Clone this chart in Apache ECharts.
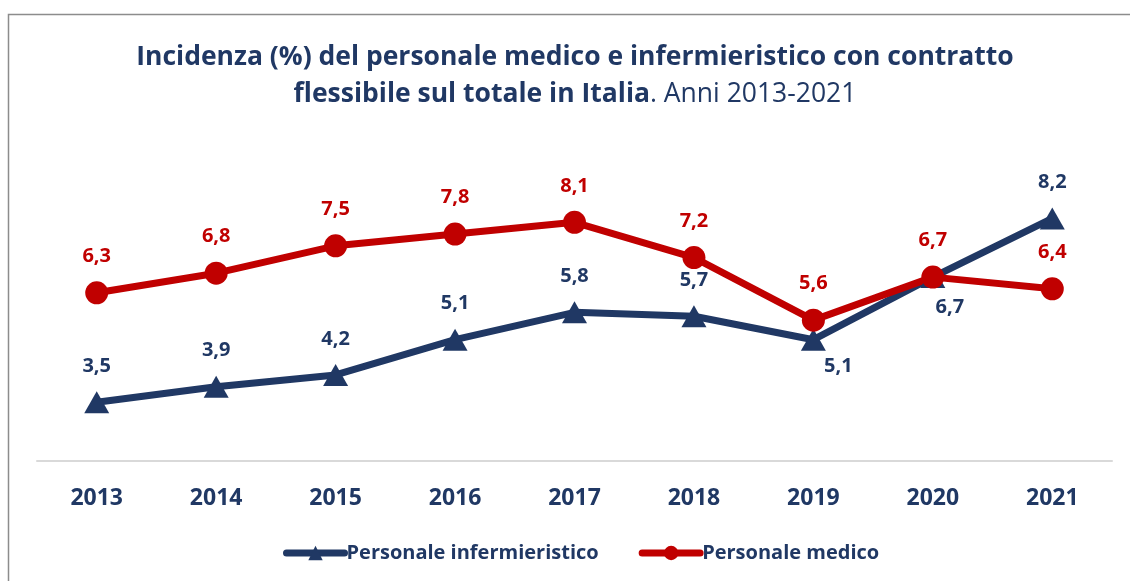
<!DOCTYPE html>
<html>
<head>
<meta charset="utf-8">
<script src="https://cdn.jsdelivr.net/npm/echarts@6/dist/echarts.min.js"></script>
<style>
  html, body { margin: 0; padding: 0; background: #fff; }
  #grafico { width: 1130px; height: 581px; }
</style>
</head>
<body>
<div id="grafico"></div>
<script>
// dati
var anni = ['2013', '2014', '2015', '2016', '2017', '2018', '2019', '2020', '2021'];
var infermieristico = [3.5, 3.9, 4.2, 5.1, 5.8, 5.7, 5.1, 6.7, 8.2];
var medico = [6.3, 6.8, 7.5, 7.8, 8.1, 7.2, 5.6, 6.7, 6.4];

var blu = '#203864';
var rosso = '#c00000';
var font = '"Open Sans", "Noto Sans", sans-serif';

function virgola(p) {
    return String(p.value).replace('.', ',');
}

// etichette sotto il punto per 2019 e 2020 (infermieristico)
var datiInf = infermieristico.map(function (v, i) {
    if (i == 6) return { value: v, label: { position: 'bottom', distance: 6, offset: [25, 0] } };
    if (i == 7) return { value: v, label: { position: 'bottom', distance: 9, offset: [17, 0] } };
    return v;
});

var chart = echarts.init(document.getElementById('grafico'));
var option = {
    animation: false,
    title: {
        left: 570,
        top: 34,
        textAlign: 'center',
        text: '{b|Incidenza (%) del personale medico e infermieristico con contratto}\n{b|flessibile sul totale in Italia}{n|. Anni 2013-2021}',
        textStyle: {
            rich: {
                b: { fontFamily: font, fontWeight: 'bold', fontSize: 26.5, color: blu, lineHeight: 37 },
                n: { fontFamily: font, fontWeight: 'normal', fontSize: 26.5, color: blu, lineHeight: 37 }
            }
        }
    },
    graphic: [{
        type: 'rect',
        shape: { x: 8.5, y: 14.5, width: 1300, height: 700 },
        style: { fill: 'none', stroke: '#8c8c8c', lineWidth: 1.5 },
        silent: true
    }],
    legend: {
        top: 538,
        left: 278,
        itemWidth: 58,
        itemHeight: 18,
        itemGap: 40,
        lineStyle: { width: 7, cap: 'round' },
        textStyle: { fontFamily: font, fontWeight: 'bold', fontSize: 20, color: blu, padding: [0, 0, 0, -3] },
        data: ['Personale infermieristico', 'Personale medico']
    },
    grid: { left: 37, right: 18, top: 148, bottom: 120 },
    xAxis: {
        type: 'category',
        data: anni,
        boundaryGap: true,
        axisLine: { lineStyle: { color: '#d9d9d9', width: 2 } },
        axisTick: { show: false },
        axisLabel: { margin: 26, fontFamily: font, fontWeight: 'bold', fontSize: 23, color: blu }
    },
    yAxis: {
        type: 'value',
        min: 2,
        max: 10,
        show: false,
        splitLine: { show: false }
    },
    series: [
        {
            name: 'Personale infermieristico',
            type: 'line',
            data: datiInf,
            symbol: 'triangle',
            symbolSize: [25, 22],
            itemStyle: { color: blu },
            lineStyle: { color: blu, width: 7, cap: 'round' },
            label: {
                show: true,
                position: 'top',
                distance: 15,
                formatter: virgola,
                fontFamily: font, fontWeight: 'bold', fontSize: 20, color: blu
            }
        },
        {
            name: 'Personale medico',
            type: 'line',
            data: medico,
            symbol: 'circle',
            symbolSize: 23,
            itemStyle: { color: rosso },
            lineStyle: { color: rosso, width: 7, cap: 'round' },
            label: {
                show: true,
                position: 'top',
                distance: 15,
                formatter: virgola,
                fontFamily: font, fontWeight: 'bold', fontSize: 20, color: rosso
            }
        }
    ]
};
chart.setOption(option);

window.addEventListener('resize', function () {
    chart.resize();
});
</script>
</body>
</html>
